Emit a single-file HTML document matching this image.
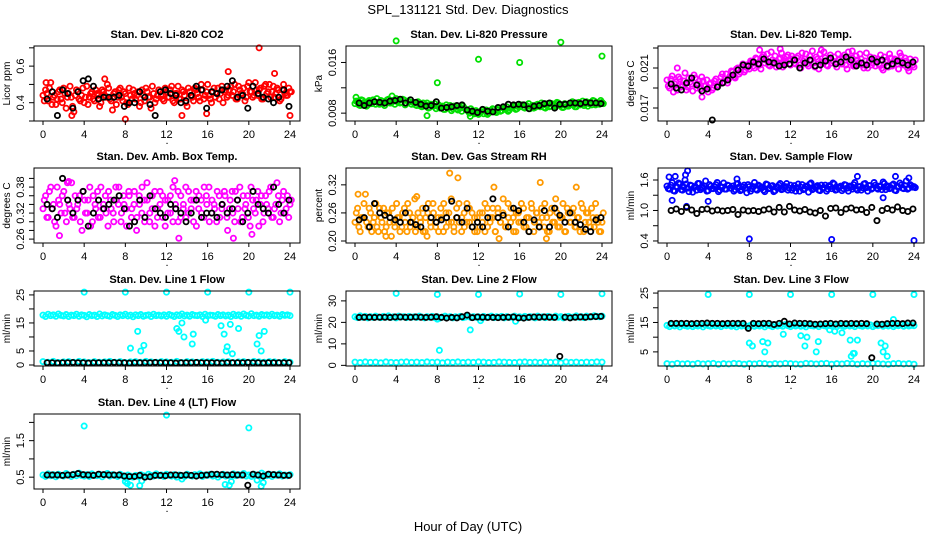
<!DOCTYPE html>
<html><head><meta charset="utf-8"><title>SPL_131121 Std. Dev. Diagnostics</title>
<style>
html,body{margin:0;padding:0;background:#fff;}
svg{display:block;font-family:"Liberation Sans",Arial,sans-serif;}
.t{font-size:11px;font-weight:bold;text-anchor:middle;}
.tk{font-size:11px;text-anchor:middle;}
.yl{font-size:10px;text-anchor:middle;}
</style></head>
<body>
<svg id="chart" width="936" height="540" viewBox="0 0 936 540" xmlns="http://www.w3.org/2000/svg">
<text x="468" y="14" style="font-size:13px;text-anchor:middle">SPL_131121  Std. Dev. Diagnostics</text>
<text x="468" y="531" style="font-size:13px;text-anchor:middle">Hour of Day (UTC)</text>
</svg>
<script>
// ---- data ----
const xTicks = [0,4,8,12,16,20,24];

const co2Red = [0.44,0.47,0.41,0.51,0.43,0.39,0.46,0.42,0.48,0.37,0.45,0.43,0.35,0.47,0.42,0.44,0.40,0.49,0.43,0.46,0.41,0.45,0.38,0.47,
0.44,0.50,0.42,0.36,0.46,0.43,0.48,0.41,0.45,0.39,0.44,0.47,0.42,0.46,0.40,0.44,0.48,0.43,0.37,0.45,0.42,0.47,0.44,0.41,
0.46,0.43,0.49,0.40,0.45,0.42,0.47,0.44,0.38,0.46,0.43,0.48,0.45,0.41,0.47,0.44,0.50,0.42,0.46,0.43,0.48,0.45,0.40,0.47,
0.44,0.49,0.46,0.42,0.49,0.45,0.48,0.43,0.51,0.46,0.44,0.47,0.47,0.42,0.49,0.45,0.50,0.46,0.43,0.48,0.41,0.47,0.45,0.44,0.46];
const co2Red2 = [0.41,0.45,0.48,0.39,0.44,0.42,0.47,0.40,0.45,0.43,0.49,0.38,0.44,0.46,0.41,0.48,0.43,0.39,0.45,0.42,0.47,0.44,0.40,0.46,0.43,
0.48,0.41,0.45,0.39,0.47,0.43,0.46,0.40,0.48,0.42,0.45,0.44,0.38,0.47,0.41,0.46,0.43,0.49,0.40,0.44,0.46,0.42,0.48,
0.43,0.47,0.41,0.45,0.49,0.42,0.46,0.40,0.48,0.44,0.41,0.47,0.43,0.50,0.42,0.46,0.44,0.40,0.48,0.45,0.42,0.49,0.46,0.43,
0.47,0.44,0.50,0.42,0.47,0.45,0.41,0.49,0.46,0.43,0.51,0.44,0.48,0.42,0.50,0.46,0.43,0.49,0.45,0.47,0.42,0.50,0.44,0.48,0.46];
const co2SpikeHours = [0.3,2.8,6.0,8.0,15.9,18.0,21.0,22.5,24.0,13.5];
const co2SpikeValues = [0.51,0.33,0.53,0.31,0.34,0.57,0.70,0.56,0.33,0.33];
const co2Black = [0.42,0.46,0.33,0.47,0.45,0.37,0.46,0.52,0.53,0.49,0.42,0.43,0.43,0.43,0.44,0.38,0.40,0.40,0.46,0.43,0.39,0.33,0.46,0.47,0.45,0.44,0.40,0.41,0.44,0.49,0.47,0.37,0.46,0.45,0.47,0.49,0.52,0.43,0.44,0.37,0.49,0.45,0.43,0.42,0.40,0.43,0.47,0.38];

const presGreen = [0.0095,0.0098,0.0092,0.0100,0.0096,0.0093,0.0099,0.0101,0.0094,0.0097,0.0100,0.0095,0.0098,0.0102,0.0096,0.0099,0.0103,
0.0100,0.0097,0.0101,0.0095,0.0098,0.0094,0.0096,0.0092,0.0095,0.0090,0.0093,0.0096,0.0089,0.0092,0.0095,0.0091,
0.0088,0.0091,0.0086,0.0089,0.0092,0.0087,0.0090,0.0085,0.0088,0.0091,0.0086,0.0083,0.0087,0.0081,0.0084,0.0078,
0.0082,0.0079,0.0085,0.0080,0.0083,0.0086,0.0081,0.0088,0.0084,0.0087,0.0090,0.0085,0.0089,0.0092,0.0087,0.0090,
0.0093,0.0088,0.0091,0.0087,0.0092,0.0089,0.0094,0.0090,0.0093,0.0088,0.0095,0.0091,0.0094,0.0090,0.0096,0.0092,
0.0089,0.0094,0.0091,0.0096,0.0093,0.0090,0.0097,0.0094,0.0092,0.0098,0.0095,0.0093,0.0099,0.0096,0.0094,0.0097];
const presGreen2 = [0.0099,0.0093,0.0101,0.0097,0.0091,0.0100,0.0095,0.0098,0.0103,0.0094,0.0099,0.0092,0.0101,0.0096,0.0100,0.0094,0.0098,
0.0096,0.0102,0.0093,0.0099,0.0101,0.0097,0.0093,0.0098,0.0091,0.0096,0.0093,0.0088,0.0094,0.0091,0.0087,0.0093,
0.0090,0.0086,0.0093,0.0088,0.0084,0.0091,0.0087,0.0089,0.0083,0.0088,0.0085,0.0080,0.0084,0.0079,0.0082,0.0080,
0.0085,0.0083,0.0078,0.0084,0.0087,0.0082,0.0085,0.0083,0.0089,0.0086,0.0083,0.0088,0.0091,0.0086,0.0090,0.0093,
0.0089,0.0092,0.0095,0.0090,0.0088,0.0093,0.0091,0.0096,0.0089,0.0092,0.0090,0.0095,0.0092,0.0097,0.0093,0.0089,
0.0095,0.0091,0.0093,0.0098,0.0090,0.0096,0.0093,0.0099,0.0095,0.0091,0.0097,0.0100,0.0093,0.0097,0.0100,0.0095];
const presSpikeHours = [4,8,12,16,20,24,7.0,11.2,0.1,3.6];
const presSpikeValues = [0.0194,0.0128,0.0165,0.0160,0.0192,0.0170,0.0076,0.0075,0.0105,0.0107];
const presBlack = [0.0096,0.0092,0.0096,0.0098,0.0097,0.0096,0.0099,0.0100,0.0102,0.0096,0.0101,0.0097,0.0094,0.0091,0.0092,0.0098,0.0088,0.0089,0.0090,0.0092,0.0093,0.0085,0.0083,0.0081,0.0086,0.0083,0.0082,0.0089,0.0090,0.0094,0.0093,0.0094,0.0093,0.0087,0.0091,0.0092,0.0095,0.0096,0.0088,0.0094,0.0094,0.0096,0.0096,0.0095,0.0097,0.0096,0.0096,0.0095];

const tempMag = [0.0198,0.0190,0.0202,0.0194,0.0188,0.0199,0.0193,0.0205,0.0191,0.0196,0.0187,0.0200,0.0194,0.0189,0.0197,0.0192,0.0186,
0.0195,0.0190,0.0199,0.0193,0.0201,0.0196,0.0204,0.0199,0.0207,0.0201,0.0209,0.0204,0.0211,0.0206,0.0213,0.0209,
0.0216,0.0210,0.0219,0.0213,0.0221,0.0215,0.0224,0.0212,0.0218,0.0222,0.0214,0.0220,0.0211,0.0217,0.0223,0.0213,
0.0219,0.0214,0.0222,0.0210,0.0217,0.0224,0.0212,0.0218,0.0215,0.0221,0.0209,0.0216,0.0226,0.0213,0.0219,0.0215,
0.0221,0.0211,0.0218,0.0214,0.0223,0.0209,0.0216,0.0220,0.0212,0.0218,0.0224,0.0213,0.0217,0.0210,0.0221,0.0215,
0.0212,0.0219,0.0223,0.0208,0.0216,0.0211,0.0220,0.0214,0.0218,0.0209,0.0222,0.0213,0.0217,0.0207,0.0215,0.0211];
const tempMag2 = [0.0192,0.0199,0.0186,0.0196,0.0201,0.0191,0.0197,0.0188,0.0200,0.0194,0.0203,0.0190,0.0197,0.0201,0.0192,0.0198,0.0194,
0.0188,0.0197,0.0193,0.0196,0.0204,0.0199,0.0195,0.0202,0.0206,0.0200,0.0210,0.0206,0.0214,0.0208,0.0211,0.0217,
0.0212,0.0220,0.0215,0.0209,0.0223,0.0218,0.0213,0.0226,0.0216,0.0211,0.0219,0.0225,0.0215,0.0221,0.0218,0.0222,
0.0215,0.0220,0.0213,0.0225,0.0219,0.0214,0.0222,0.0227,0.0211,0.0219,0.0224,0.0215,0.0220,0.0212,0.0223,0.0217,
0.0214,0.0224,0.0216,0.0220,0.0213,0.0226,0.0218,0.0212,0.0222,0.0215,0.0219,0.0210,0.0225,0.0216,0.0213,0.0220,
0.0217,0.0213,0.0210,0.0221,0.0218,0.0224,0.0212,0.0219,0.0214,0.0225,0.0216,0.0220,0.0210,0.0219,0.0213,0.0218];
const tempSpikeHours = [1.0,3.4,9.0,11.0,15.0,18.0];
const tempSpikeValues = [0.0210,0.0181,0.0228,0.0229,0.0228,0.0227];
const tempBlack = [0.0194,0.0190,0.0188,0.0195,0.0200,0.0193,0.0187,0.0189,0.0158,0.0191,0.0195,0.0198,0.0203,0.0208,0.0213,0.0212,0.0216,0.0214,0.0219,0.0216,0.0215,0.0212,0.0213,0.0214,0.0218,0.0210,0.0215,0.0218,0.0212,0.0213,0.0217,0.0220,0.0214,0.0216,0.0221,0.0218,0.0212,0.0215,0.0213,0.0219,0.0216,0.0218,0.0212,0.0214,0.0217,0.0215,0.0213,0.0216];

const ambMag = [0.33,0.36,0.31,0.38,0.34,0.29,0.35,0.32,0.37,0.30,0.34,0.39,0.31,0.33,0.36,0.28,0.35,0.32,0.38,0.30,0.34,0.37,0.31,0.33,0.36,
0.29,0.35,0.32,0.38,0.34,0.30,0.36,0.33,0.37,0.31,0.34,0.28,0.36,0.32,0.35,0.39,0.30,0.33,0.37,0.31,0.34,0.36,0.29,
0.35,0.32,0.38,0.33,0.30,0.36,0.34,0.31,0.37,0.33,0.35,0.29,0.36,0.32,0.38,0.34,0.30,0.35,0.33,0.37,0.31,0.34,0.36,0.28,
0.35,0.32,0.37,0.33,0.30,0.36,0.34,0.31,0.38,0.33,0.35,0.29,0.36,0.32,0.34,0.37,0.31,0.33,0.39,0.30,0.35,0.32,0.36,0.34];
const ambMag2 = [0.35,0.31,0.37,0.33,0.30,0.38,0.34,0.36,0.32,0.39,0.33,0.31,0.36,0.34,0.30,0.37,0.32,0.35,0.29,0.36,0.33,0.31,0.38,0.34,0.32,
0.37,0.33,0.30,0.35,0.38,0.32,0.34,0.29,0.36,0.33,0.37,0.31,0.34,0.38,0.30,0.35,0.32,0.36,0.29,0.33,0.37,0.31,0.35,
0.32,0.36,0.30,0.34,0.37,0.31,0.33,0.38,0.32,0.35,0.30,0.37,0.33,0.35,0.31,0.36,0.38,0.32,0.34,0.30,0.36,0.33,0.37,0.31,
0.33,0.37,0.30,0.35,0.38,0.31,0.33,0.36,0.29,0.35,0.32,0.37,0.34,0.30,0.36,0.33,0.38,0.31,0.34,0.36,0.32,0.37,0.33,0.31,0.35];
const ambSpikeHours = [1.6,13.2,18.5,20.3,2.5,12.8];
const ambSpikeValues = [0.268,0.262,0.262,0.271,0.393,0.395];
const ambBlack = [0.34,0.33,0.31,0.40,0.35,0.32,0.35,0.37,0.29,0.32,0.35,0.33,0.34,0.35,0.36,0.33,0.29,0.30,0.35,0.31,0.36,0.33,0.32,0.31,0.34,0.33,0.32,0.30,0.32,0.35,0.31,0.32,0.32,0.31,0.34,0.32,0.33,0.35,0.30,0.32,0.37,0.34,0.33,0.32,0.38,0.34,0.32,0.35];

const rhOrange = [0.24,0.27,0.22,0.25,0.30,0.23,0.26,0.24,0.28,0.22,0.25,0.27,0.23,0.26,0.21,0.24,0.28,0.25,0.23,0.27,0.22,0.26,0.24,0.29,
0.23,0.25,0.27,0.22,0.26,0.24,0.28,0.23,0.25,0.27,0.22,0.26,0.24,0.29,0.23,0.25,0.28,0.22,0.26,0.24,0.27,0.23,0.25,0.22,0.26,
0.24,0.28,0.23,0.25,0.27,0.22,0.26,0.24,0.29,0.23,0.25,0.27,0.22,0.26,0.24,0.28,0.23,0.25,0.22,0.27,0.24,0.26,0.23,
0.25,0.28,0.22,0.26,0.24,0.27,0.23,0.25,0.28,0.22,0.26,0.24,0.27,0.23,0.25,0.28,0.22,0.26,0.24,0.27,0.23,0.25,0.22,0.24];
const rhOrange2 = [0.26,0.23,0.25,0.28,0.24,0.27,0.22,0.25,0.23,0.27,0.24,0.22,0.26,0.24,0.27,0.23,0.25,0.22,0.26,0.24,0.28,0.23,0.25,0.22,0.26,
0.24,0.22,0.25,0.28,0.23,0.26,0.24,0.22,0.25,0.28,0.23,0.26,0.24,0.22,0.27,0.24,0.25,0.23,0.28,0.24,0.26,0.22,0.25,
0.23,0.26,0.22,0.27,0.24,0.25,0.22,0.27,0.24,0.26,0.23,0.28,0.24,0.25,0.22,0.26,0.24,0.27,0.23,0.25,0.28,0.22,0.26,0.24,
0.27,0.23,0.25,0.22,0.27,0.24,0.26,0.23,0.25,0.22,0.27,0.24,0.26,0.23,0.25,0.22,0.27,0.24,0.26,0.23,0.25,0.28,0.24,0.22,0.26];
const rhSpikeHours = [0.3,6.0,9.2,10.0,13.5,18.0,19.5,21.5,3.0,7.0,14.0,18.6];
const rhSpikeValues = [0.30,0.295,0.345,0.335,0.315,0.325,0.29,0.315,0.21,0.21,0.205,0.205];
const rhBlack = [0.245,0.25,0.23,0.28,0.26,0.255,0.25,0.245,0.24,0.26,0.24,0.235,0.23,0.27,0.25,0.24,0.245,0.25,0.285,0.25,0.24,0.27,0.23,0.24,0.23,0.25,0.29,0.25,0.255,0.23,0.27,0.265,0.24,0.22,0.245,0.23,0.265,0.23,0.27,0.255,0.24,0.26,0.24,0.235,0.225,0.22,0.245,0.25];

const flowBlue = [1.48,1.42,1.55,1.38,1.46,1.52,1.40,1.60,1.44,1.50,1.36,1.47,1.53,1.41,1.45,1.58,1.39,1.48,1.43,1.51,1.37,1.46,1.54,1.42,1.49,
1.44,1.38,1.52,1.46,1.41,1.50,1.35,1.47,1.43,1.55,1.40,1.48,1.45,1.37,1.51,1.44,1.49,1.39,1.46,1.53,1.42,1.47,1.40,
1.50,1.44,1.38,1.52,1.46,1.41,1.48,1.36,1.54,1.43,1.47,1.40,1.50,1.45,1.38,1.49,1.43,1.52,1.41,1.46,1.39,1.51,1.44,1.48,
1.42,1.55,1.40,1.47,1.45,1.53,1.38,1.49,1.44,1.50,1.42,1.47,1.56,1.41,1.48,1.45,1.52,1.39,1.46,1.50,1.43,1.58,1.44,1.49,1.47];
const flowBlue2 = [1.43,1.50,1.39,1.47,1.54,1.41,1.46,1.52,1.37,1.49,1.45,1.40,1.53,1.44,1.48,1.38,1.51,1.43,1.47,1.55,1.40,1.46,1.42,1.50,1.44,
1.48,1.41,1.53,1.39,1.46,1.44,1.51,1.38,1.47,1.42,1.50,1.45,1.40,1.52,1.43,1.48,1.37,1.46,1.50,1.41,1.45,1.53,1.44,
1.40,1.49,1.45,1.38,1.51,1.43,1.47,1.52,1.41,1.46,1.49,1.39,1.44,1.50,1.42,1.47,1.54,1.40,1.45,1.48,1.43,1.50,1.38,1.46,
1.51,1.43,1.47,1.40,1.52,1.45,1.49,1.42,1.55,1.44,1.48,1.41,1.53,1.46,1.43,1.50,1.40,1.47,1.54,1.44,1.49,1.42,1.51,1.46,1.45];
const flowSpikeHours = [0.2,0.8,1.8,2.0,8,16,24,0.5,4,6.8,18.5,22.2,23.5,21,1.9];
const flowSpikeValues = [1.66,1.67,1.70,1.78,0.44,0.43,0.41,1.20,1.18,1.62,1.67,1.67,1.64,1.25,1.08];
const flowBlack = [1.00,1.03,0.98,1.06,1.01,0.94,1.02,1.03,0.99,1.01,0.99,1.00,1.02,0.92,1.01,0.99,1.00,0.98,1.01,1.03,0.97,1.06,0.97,1.08,1.01,0.99,1.02,0.97,0.95,1.00,0.89,1.04,1.05,0.96,1.03,1.05,1.01,1.02,0.96,1.06,0.80,1.00,1.04,1.01,1.07,1.00,0.98,1.03];

const line1High = [17.8,17.3,18.1,17.6,17.9,17.4,18.2,17.7,17.5,18.0,17.3,17.8,17.6,18.1,17.4,17.9,17.7,17.2,18.0,17.6,17.8,17.3,18.2,17.5,17.9,
17.6,17.4,18.0,17.7,17.3,17.9,17.6,18.1,17.5,17.8,17.2,17.9,17.6,18.0,17.4,17.7,17.9,17.3,18.1,17.6,17.8,17.5,17.9,
17.4,18.0,17.7,17.3,17.9,17.6,18.2,17.5,17.8,17.4,18.0,17.7,17.6,17.9,17.3,18.1,17.5,17.8,17.7,17.4,18.0,17.6,17.9,17.5,
17.8,17.3,18.1,17.6,17.9,17.4,18.2,17.7,17.5,18.3,17.6,17.8,17.4,18.0,17.7,17.9,17.5,18.1,17.6,17.8,17.4,18.0,17.7,17.9,17.6];
const line1Low = [1.2,1.0,1.3,0.9,1.1,1.2,1.0,1.3,1.1,0.9,1.2,1.0,1.1,1.3,1.0,1.2,0.9,1.1,1.2,1.0,1.3,1.1,1.0,1.2,1.1,1.0,1.3,0.9,1.2,1.1,1.0,1.2,1.1,1.3,1.0,1.1,1.2,0.9,1.1,1.2,1.0,1.3,1.1,1.0,1.2,1.1,0.9,1.2,1.0];
const line1SpikeHours = [4,8,12,16,20,24,8.5,9.2,9.5,9.8,13.2,13.5,13.7,14.5,14.6,17.3,17.6,17.8,17.9,18.2,18.4,19.0,20.8,21.0,21.2,21.5,13.0,15.8];
const line1SpikeValues = [26,26,26,26,26,26,6,12,5,7,12,15,10,7.5,11,14,11,5,6.5,14.5,4,13,7.5,10.5,5,12,13,16];
const line1Black = [0.8,0.8,0.7,0.8,0.8,0.9,0.8,0.8,0.7,0.8,0.8,0.8,0.8,0.9,0.8,0.8,0.7,0.8,0.8,0.8,0.8,0.9,0.8,0.8,0.8,0.7,0.8,0.8,0.8,0.9,0.8,0.8,0.8,0.8,0.7,0.8,0.8,0.8,0.8,0.9,0.8,0.8,0.7,0.8,0.8,0.8,0.8,0.8];

const line2High = [22.6,22.2,23.0,22.4,22.8,22.1,22.7,22.3,22.9,22.5,22.2,22.8,22.4,23.0,22.3,22.6,22.1,22.9,22.5,22.7,22.2,22.8,22.4,22.6,22.3,
22.9,22.5,22.1,22.7,22.4,22.8,22.2,22.6,22.0,22.5,22.9,22.3,22.7,22.1,22.6,22.4,22.8,22.2,22.5,22.9,22.3,22.7,22.4,
22.6,22.1,22.8,22.3,22.5,22.9,22.2,22.6,22.4,22.8,22.1,22.7,22.3,22.5,22.9,22.4,22.6,22.2,22.8,22.3,22.7,22.5,22.1,22.9,
22.4,22.6,22.2,22.8,22.5,22.3,22.9,22.4,22.7,22.1,22.6,22.8,22.3,22.5,23.0,22.4,22.7,22.2,22.9,22.5,22.6,23.1,22.8,22.6,22.9];
const line2Low = [1.5,1.3,1.6,1.4,1.5,1.2,1.6,1.4,1.3,1.5,1.6,1.4,1.5,1.3,1.6,1.4,1.5,1.2,1.5,1.4,1.6,1.3,1.5,1.4,1.6,1.5,1.3,1.4,1.6,1.5,1.4,1.3,1.5,1.6,1.4,1.5,1.3,1.6,1.4,1.5,1.2,1.6,1.4,1.5,1.3,1.5,1.4,1.6,1.5];
const line2SpikeHours = [4,8,12,16,20,24,8.2,11.2,12.2,15.6,8.0];
const line2SpikeValues = [33.5,33,33,33.2,33,33.3,7,16.5,20.8,20.5,21.5];
const line2Black = [22.3,22.4,22.4,22.3,22.4,22.4,22.3,22.5,22.5,22.4,22.4,22.5,22.4,22.3,22.4,22.6,22.3,22.0,22.3,22.1,22.6,23.4,22.2,22.5,22.4,22.3,22.3,22.2,22.3,22.4,22.5,22.1,22.0,22.3,22.5,22.4,22.5,22.4,22.3,4.2,22.4,22.1,22.4,22.5,22.4,22.6,22.7,22.8];

const line3High = [14.0,13.6,14.3,13.8,14.1,13.5,14.2,13.9,13.7,14.3,13.6,14.0,13.8,14.2,13.5,14.1,13.9,13.7,14.3,13.8,14.0,13.6,14.2,13.9,14.1,
13.7,14.0,13.5,14.2,13.8,14.1,13.6,13.9,14.3,13.7,14.0,13.8,14.2,13.5,14.1,13.9,13.6,14.2,13.8,14.0,13.7,14.3,13.9,
13.6,14.1,13.8,14.2,13.7,14.0,13.5,14.3,13.9,13.8,14.1,13.6,14.2,13.9,13.7,14.0,13.8,14.3,13.6,14.1,13.9,13.7,14.2,13.8,
14.0,13.6,14.3,13.9,13.7,14.1,13.8,14.2,13.6,14.0,13.9,14.3,13.7,14.1,13.8,14.2,13.6,14.0,13.9,14.3,13.7,14.1,13.8,14.0,13.9];
const line3Low = [1.0,0.8,1.1,0.9,1.0,0.8,1.1,0.9,1.0,1.1,0.8,1.0,0.9,1.1,1.0,0.8,1.0,0.9,1.1,1.0,0.8,1.0,0.9,1.1,1.0,0.9,0.8,1.1,1.0,0.9,1.0,1.1,0.8,1.0,0.9,1.1,1.0,0.8,1.0,0.9,1.1,1.0,0.9,0.8,1.0,1.1,0.9,1.0,0.8];
const line3SpikeHours = [4,8,12,16,20,24,8.0,8.3,9.3,9.5,9.8,11.3,13.0,13.4,13.6,14.5,14.7,15.8,17.0,17.8,17.9,18.1,18.2,18.5,20.8,21.0,21.2,21.4,16.3,22.0];
const line3SpikeValues = [24.5,24.5,24.5,24.5,24.5,24.5,8,7,8.5,5,8,11,10.5,7,10,5,8.5,12.5,11.5,9,3.5,4.5,4.5,9,8,5,7,3.5,12,16];
const line3Black = [14.7,14.7,14.7,14.7,14.6,14.7,14.7,14.8,14.7,14.7,14.6,14.7,14.7,14.7,14.7,13.0,14.7,14.6,14.7,14.7,14.3,14.7,15.4,14.5,14.8,14.7,14.7,14.6,14.4,14.5,14.6,14.7,14.5,14.7,14.6,14.7,14.6,14.7,14.6,3.0,14.5,14.4,14.6,14.7,14.7,14.6,14.8,14.8];

const line4Cyan = [0.56,0.52,0.59,0.54,0.57,0.51,0.58,0.55,0.53,0.60,0.56,0.52,0.58,0.54,0.61,0.55,0.53,0.57,0.52,0.59,0.55,0.54,0.58,0.51,0.56,
0.60,0.53,0.57,0.55,0.52,0.58,0.54,0.49,0.56,0.53,0.50,0.55,0.52,0.57,0.54,0.51,0.58,0.55,0.53,0.59,0.54,0.56,0.52,
0.58,0.55,0.53,0.57,0.50,0.56,0.54,0.52,0.58,0.55,0.53,0.57,0.54,0.59,0.52,0.56,0.55,0.58,0.53,0.57,0.50,0.55,0.58,0.53,
0.56,0.52,0.59,0.54,0.57,0.55,0.60,0.53,0.56,0.52,0.58,0.55,0.53,0.61,0.56,0.54,0.58,0.52,0.57,0.55,0.59,0.53,0.56,0.54,0.57];
const line4SpikeHours = [4,12,20,8.0,8.2,8.5,9.4,9.6,17.7,18.1,18.3,20.8,21.2,21.4,13.5];
const line4SpikeValues = [1.9,2.2,1.85,0.38,0.33,0.28,0.27,0.40,0.30,0.28,0.38,0.42,0.25,0.35,0.45];
const line4Black = [0.56,0.56,0.56,0.55,0.56,0.57,0.60,0.57,0.56,0.55,0.58,0.57,0.56,0.56,0.56,0.53,0.52,0.52,0.55,0.50,0.51,0.55,0.55,0.54,0.56,0.56,0.55,0.56,0.55,0.53,0.55,0.56,0.58,0.58,0.57,0.56,0.57,0.56,0.56,0.28,0.58,0.56,0.53,0.58,0.57,0.56,0.55,0.55];

// ---- panel definitions ----
const NS='http://www.w3.org/2000/svg';
const svg=document.getElementById('chart');
const W=266,H=75;
const panels=[
 {id:'co2',col:0,row:0,title:'Stan. Dev. Li-820 CO2',ylab:'Licor ppm',y0:0.3,y1:0.71,ticks:[0.3,0.4,0.5,0.6,0.7],labels:['','0.4','','0.6',''],color:'#ff0000',dense:[co2Red,co2Red2],sh:co2SpikeHours,sv:co2SpikeValues,black:co2Black},
 {id:'pressure',col:1,row:0,title:'Stan. Dev. Li-820 Pressure',ylab:'kPa',y0:0.00676,y1:0.0186,ticks:[0.008,0.012,0.016],labels:['0.008','','0.016'],color:'#00e000',dense:[presGreen,presGreen2],sh:presSpikeHours,sv:presSpikeValues,black:presBlack},
 {id:'temp',col:2,row:0,title:'Stan. Dev. Li-820 Temp.',ylab:'degrees C',y0:0.0157,y1:0.0232,ticks:[0.017,0.019,0.021,0.023],labels:['0.017','','0.021',''],color:'#ff00ff',dense:[tempMag,tempMag2],sh:tempSpikeHours,sv:tempSpikeValues,black:tempBlack},
 {id:'ambbox',col:0,row:1,title:'Stan. Dev. Amb. Box Temp.',ylab:'degrees C',y0:0.251,y1:0.424,ticks:[0.26,0.28,0.30,0.32,0.34,0.36,0.38,0.40],labels:['0.26','','','0.32','','','0.38',''],color:'#ff00ff',dense:[ambMag,ambMag2],sh:ambSpikeHours,sv:ambSpikeValues,black:ambBlack},
 {id:'rh',col:1,row:1,title:'Stan. Dev. Gas Stream RH',ylab:'percent',y0:0.1957,y1:0.356,ticks:[0.20,0.26,0.32],labels:['0.20','0.26','0.32'],color:'#ff9a00',dense:[rhOrange,rhOrange2],sh:rhSpikeHours,sv:rhSpikeValues,black:rhBlack},
 {id:'sampleflow',col:2,row:1,title:'Stan. Dev. Sample Flow',ylab:'ml/min',y0:0.36,y1:1.836,ticks:[0.4,0.7,1.0,1.3,1.6],labels:['0.4','','1.0','','1.6'],color:'#0000ff',dense:[flowBlue,flowBlue2],sh:flowSpikeHours,sv:flowSpikeValues,black:flowBlack},
 {id:'line1',col:0,row:2,title:'Stan. Dev. Line 1 Flow',ylab:'ml/min',y0:-0.36,y1:26.4,ticks:[0,5,10,15,20,25],labels:['0','5','','15','','25'],color:'#00ffff',dense:[line1High,line1Low],sh:line1SpikeHours,sv:line1SpikeValues,black:line1Black},
 {id:'line2',col:1,row:2,title:'Stan. Dev. Line 2 Flow',ylab:'ml/min',y0:-0.3,y1:34.6,ticks:[0,10,20,30],labels:['0','10','20','30'],color:'#00ffff',dense:[line2High,line2Low],sh:line2SpikeHours,sv:line2SpikeValues,black:line2Black},
 {id:'line3',col:2,row:2,title:'Stan. Dev. Line 3 Flow',ylab:'ml/min',y0:0.2,y1:25.7,ticks:[5,10,15,20,25],labels:['5','','15','','25'],color:'#00ffff',dense:[line3High,line3Low],sh:line3SpikeHours,sv:line3SpikeValues,black:line3Black},
 {id:'line4',col:0,row:3,title:'Stan. Dev. Line 4 (LT) Flow',ylab:'ml/min',y0:0.176,y1:2.23,ticks:[0.5,1.0,1.5,2.0],labels:['0.5','','1.5',''],color:'#00ffff',dense:[line4Cyan],sh:line4SpikeHours,sv:line4SpikeValues,black:line4Black}
];
const colLeft=[34,346,658], rowTop=[46,168,291,414];

function mk(tag,attrs,parent){const e=document.createElementNS(NS,tag);for(const k in attrs)e.setAttribute(k,attrs[k]);parent.appendChild(e);return e;}

panels.forEach(p=>{
  const L=colLeft[p.col],T=rowTop[p.row];
  const xs=h=>L+9+h*(247/24);
  const ys=v=>T+H-(v-p.y0)/(p.y1-p.y0)*H;
  const g=mk('g',{},svg);
  
  
  const t=mk('text',{x:L+W/2,y:T-8,class:'t'},g);t.textContent=p.title;
  
  
  const pts=mk('g',{fill:'none','stroke-width':1.8},g);
  
  
  p.dense.forEach((arr,k)=>{
    const off=(k===1 && arr.length>60)?0.5:0;
    arr.forEach((v,i)=>{
      const c=mk('circle',{cx:xs((i+off)*24/(arr.length-1)),cy:ys(v),r:2.6,stroke:p.color},pts);
      
      
    });
  });
  p.sh.forEach((h,i)=>{
    const c=mk('circle',{cx:xs(h),cy:ys(p.sv[i]),r:2.6,stroke:p.color},pts);
    
    
  });
  p.black.forEach((v,i)=>{
    const c=mk('circle',{cx:xs((i+1)/2-0.1),cy:ys(v),r:2.6,stroke:'#000'},pts);
    
    
  });
  const b=mk('rect',{x:L,y:T,width:W,height:H,fill:'none',stroke:'#000','stroke-width':1},g);
  
  
  const xa=mk('g',{},g);
  
  
  xTicks.forEach(h=>{
    mk('line',{x1:xs(h),x2:xs(h),y1:T+H,y2:T+H+4,stroke:'#000'},xa);
    const l=mk('text',{x:xs(h),y:T+H+17,class:'tk'},xa);l.textContent=h;
  });
  const dot=mk('text',{x:L+W/2,y:T+H+23,class:'tk'},xa);dot.textContent='.';
  const ya=mk('g',{},g);
  
  
  p.ticks.forEach((v,i)=>{
    const y=ys(v);
    mk('line',{x1:L-5,x2:L,y1:y,y2:y,stroke:'#000'},ya);
    if(p.labels[i]){const l=mk('text',{x:0,y:0,class:'tk',transform:`translate(${L-10},${y}) rotate(-90)`},ya);l.textContent=p.labels[i];}
  });
  const yl=mk('text',{x:0,y:0,class:'yl',transform:`translate(${L-24},${T+H/2}) rotate(-90)`},g);yl.textContent=p.ylab;
  
  
});
</script>
</body></html>
